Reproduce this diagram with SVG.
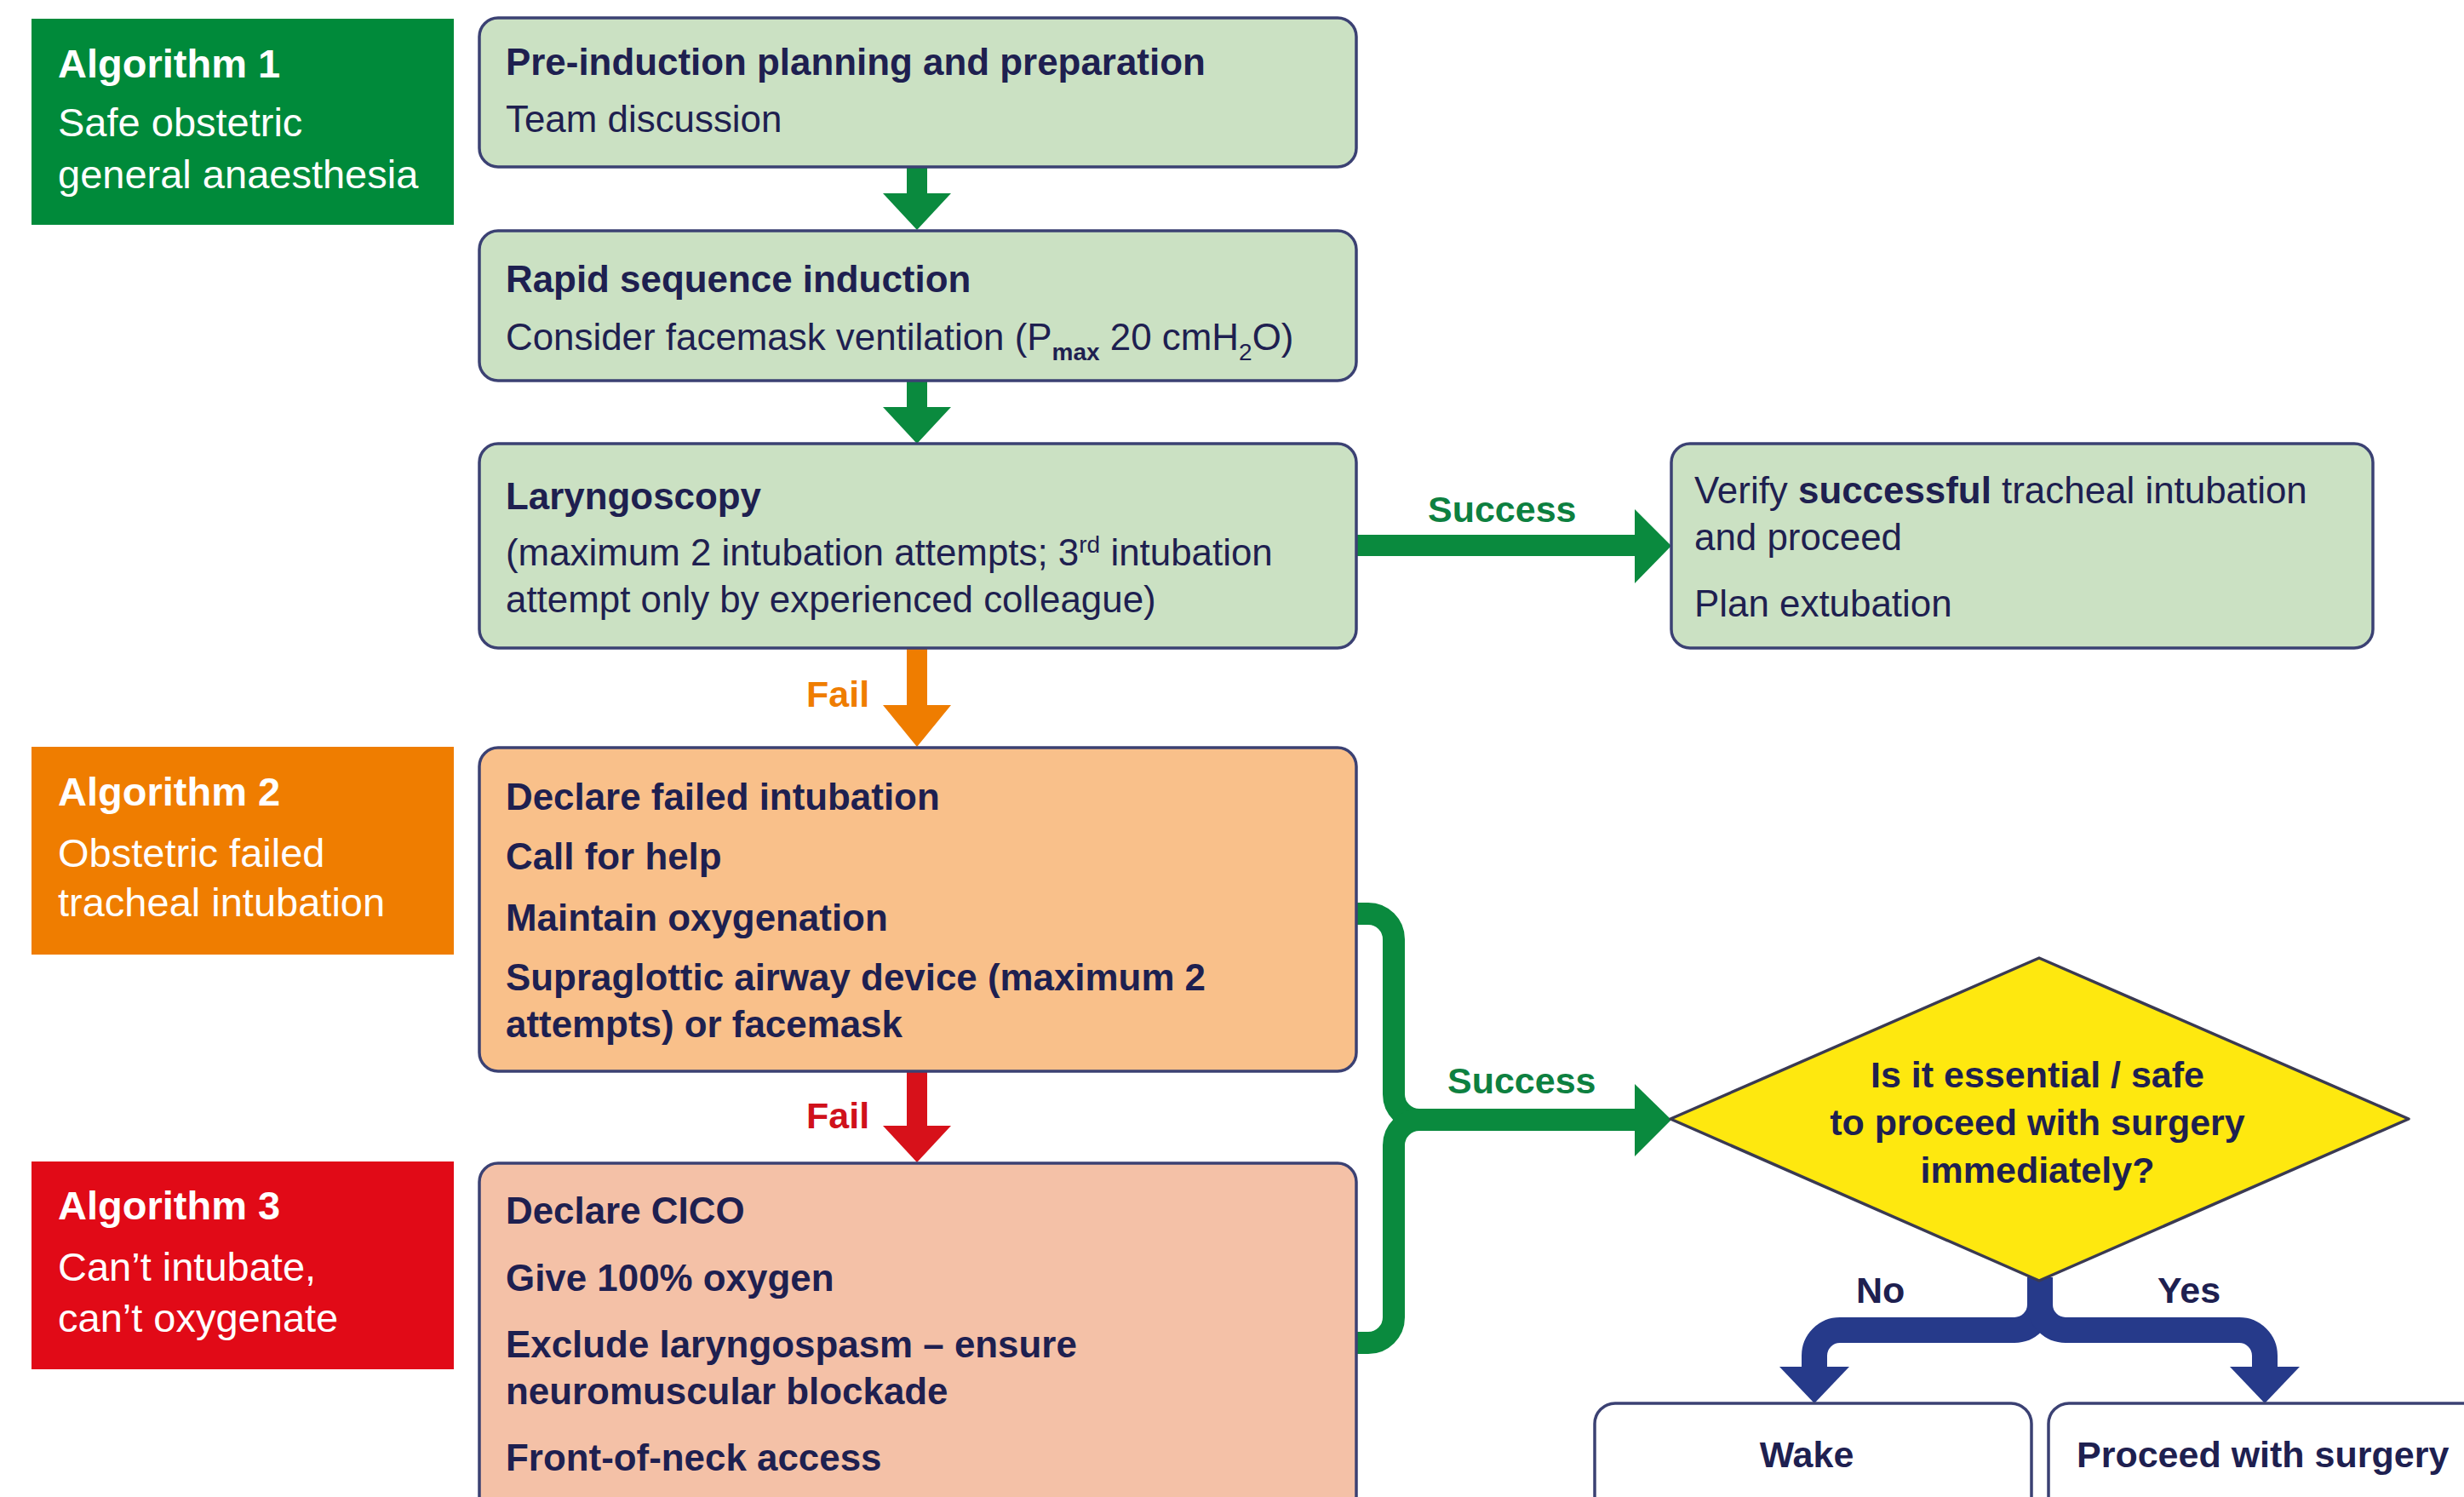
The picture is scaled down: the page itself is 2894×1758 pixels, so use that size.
<svg xmlns="http://www.w3.org/2000/svg" width="2894" height="1758" viewBox="0 0 2894 1758">
<style>
.t{font-family:"Liberation Sans",Arial,sans-serif;font-size:43px;fill:#1e2050}
.m{font-size:43.9px}
.b{font-weight:bold}
.alg{font-family:"Liberation Sans",Arial,sans-serif;font-size:47px;fill:#ffffff}
.box{stroke:#3b4173;stroke-width:3.5}
.g{fill:#cbe1c3}
.o{fill:#f9c08a}
.s{fill:#f4c1a7}
.w{fill:#ffffff}
.lblg{font-family:"Liberation Sans",Arial,sans-serif;font-size:43px;font-weight:bold;fill:#0d8040}
</style>
<rect width="2894" height="1758" fill="#ffffff"/>
<g id="connectors">
  <rect x="1065" y="196" width="24" height="32" fill="#0a8a3e"/>
  <polygon points="1037,227 1117,227 1077,270" fill="#0a8a3e"/>
  <rect x="1065" y="447" width="24" height="32" fill="#0a8a3e"/>
  <polygon points="1037,478 1117,478 1077,521" fill="#0a8a3e"/>
  <rect x="1065" y="761" width="24" height="68" fill="#ef7d00"/>
  <polygon points="1037,828 1117,828 1077,877" fill="#ef7d00"/>
  <rect x="1065" y="1258" width="24" height="65" fill="#d7111a"/>
  <polygon points="1037,1322 1117,1322 1077,1365" fill="#d7111a"/>
  <rect x="1593" y="628" width="329" height="25" fill="#0a8a3e"/>
  <polygon points="1920,598 1920,685 1963,641" fill="#0a8a3e"/>
  <path d="M1593,1073 H1607 A30,30 0 0 1 1637,1103 V1285 A30,30 0 0 0 1667,1315 H1924" fill="none" stroke="#0a8a3e" stroke-width="26"/>
  <path d="M1593,1577 H1607 A30,30 0 0 0 1637,1547 V1345 A30,30 0 0 1 1667,1315" fill="none" stroke="#0a8a3e" stroke-width="26"/>
  <polygon points="1920,1273 1920,1358 1963,1315" fill="#0a8a3e"/>
  <path d="M2396,1500 V1532 A30,30 0 0 1 2366,1562 H2161 A30,30 0 0 0 2131,1592 V1608" fill="none" stroke="#263a8a" stroke-width="30"/>
  <path d="M2396,1500 V1532 A30,30 0 0 0 2426,1562 H2630 A30,30 0 0 1 2660,1592 V1608" fill="none" stroke="#263a8a" stroke-width="30"/>
  <polygon points="2090,1605 2172,1605 2131,1648" fill="#263a8a"/>
  <polygon points="2619,1605 2701,1605 2660,1648" fill="#263a8a"/>
  <text class="lblg" x="1677" y="613">Success</text>
  <text class="lblg" x="1700" y="1284">Success</text>
  <text x="947" y="830" style="font-family:'Liberation Sans',Arial,sans-serif;font-size:43px;font-weight:bold;fill:#ef7d00">Fail</text>
  <text x="947" y="1325" style="font-family:'Liberation Sans',Arial,sans-serif;font-size:43px;font-weight:bold;fill:#d0111b">Fail</text>
  <text class="t b" x="2180" y="1530">No</text>
  <text class="t b" x="2534" y="1530">Yes</text>
</g>
<g id="alg1">
  <rect x="37" y="22" width="496" height="242" fill="#008a3a"/>
  <text class="alg b" x="68" y="91">Algorithm 1</text>
  <text class="alg" x="68" y="160">Safe obstetric</text>
  <text class="alg" x="68" y="221">general anaesthesia</text>
</g>
<g id="alg2">
  <rect x="37" y="877" width="496" height="244" fill="#ef7d00"/>
  <text class="alg b" x="68" y="946">Algorithm 2</text>
  <text class="alg" x="68" y="1018">Obstetric failed</text>
  <text class="alg" x="68" y="1076">tracheal intubation</text>
</g>
<g id="alg3">
  <rect x="37" y="1364" width="496" height="244" fill="#e10a17"/>
  <text class="alg b" x="68" y="1432">Algorithm 3</text>
  <text class="alg" x="68" y="1504">Can’t intubate,</text>
  <text class="alg" x="68" y="1564">can’t oxygenate</text>
</g>
<g id="preinduction">
  <rect class="box g" x="563" y="21" width="1030" height="175" rx="22"/>
  <text class="t m b" x="594" y="88">Pre-induction planning and preparation</text>
  <text class="t m" x="594" y="155">Team discussion</text>
</g>
<g id="rsi">
  <rect class="box g" x="563" y="271" width="1030" height="176" rx="22"/>
  <text class="t m b" x="594" y="343">Rapid sequence induction</text>
  <text class="t m" x="594" y="411">Consider facemask ventilation (P<tspan font-size="28" font-weight="bold" dy="12">max</tspan><tspan dy="-12"> 20 cmH</tspan><tspan font-size="28" dy="12">2</tspan><tspan dy="-12">O)</tspan></text>
</g>
<g id="laryngoscopy">
  <rect class="box g" x="563" y="521" width="1030" height="240" rx="22"/>
  <text class="t m b" x="594" y="598">Laryngoscopy</text>
  <text class="t m" x="594" y="664">(maximum 2 intubation attempts; 3<tspan font-size="28" dy="-15">rd</tspan><tspan dy="15"> intubation</tspan></text>
  <text class="t m" x="594" y="719">attempt only by experienced colleague)</text>
</g>
<g id="verify">
  <rect class="box g" x="1963" y="521" width="824" height="240" rx="22"/>
  <text class="t m" x="1990" y="591">Verify <tspan font-weight="bold">successful</tspan> tracheal intubation</text>
  <text class="t m" x="1990" y="646">and proceed</text>
  <text class="t m" x="1990" y="724">Plan extubation</text>
</g>
<g id="failed-intubation">
  <rect class="box o" x="563" y="878" width="1030" height="380" rx="22"/>
  <text class="t m b" x="594" y="951">Declare failed intubation</text>
  <text class="t m b" x="594" y="1021">Call for help</text>
  <text class="t m b" x="594" y="1093">Maintain oxygenation</text>
  <text class="t m b" x="594" y="1163">Supraglottic airway device (maximum 2</text>
  <text class="t m b" x="594" y="1218">attempts) or facemask</text>
</g>
<g id="cico">
  <rect class="box s" x="563" y="1366" width="1030" height="420" rx="22"/>
  <text class="t m b" x="594" y="1437">Declare CICO</text>
  <text class="t m b" x="594" y="1516">Give 100% oxygen</text>
  <text class="t m b" x="594" y="1594">Exclude laryngospasm – ensure</text>
  <text class="t m b" x="594" y="1649">neuromuscular blockade</text>
  <text class="t m b" x="594" y="1727">Front-of-neck access</text>
</g>
<g id="decision">
  <polygon points="2395,1125 2829,1314 2395,1504 1962,1314" fill="#fee80f" stroke="#3a3a52" stroke-width="3.5" stroke-linejoin="round"/>
  <text class="t b" x="2393" y="1277" text-anchor="middle">Is it essential / safe</text>
  <text class="t b" x="2393" y="1333" text-anchor="middle">to proceed with surgery</text>
  <text class="t b" x="2393" y="1389" text-anchor="middle">immediately?</text>
</g>
<g id="wake">
  <rect class="box w" x="1873" y="1648" width="513" height="140" rx="24"/>
  <text class="t b" x="2122" y="1723" text-anchor="middle">Wake</text>
</g>
<g id="proceed">
  <rect class="box w" x="2406" y="1648" width="520" height="140" rx="24"/>
  <text class="t b" x="2439" y="1723">Proceed with surgery</text>
</g>
</svg>
